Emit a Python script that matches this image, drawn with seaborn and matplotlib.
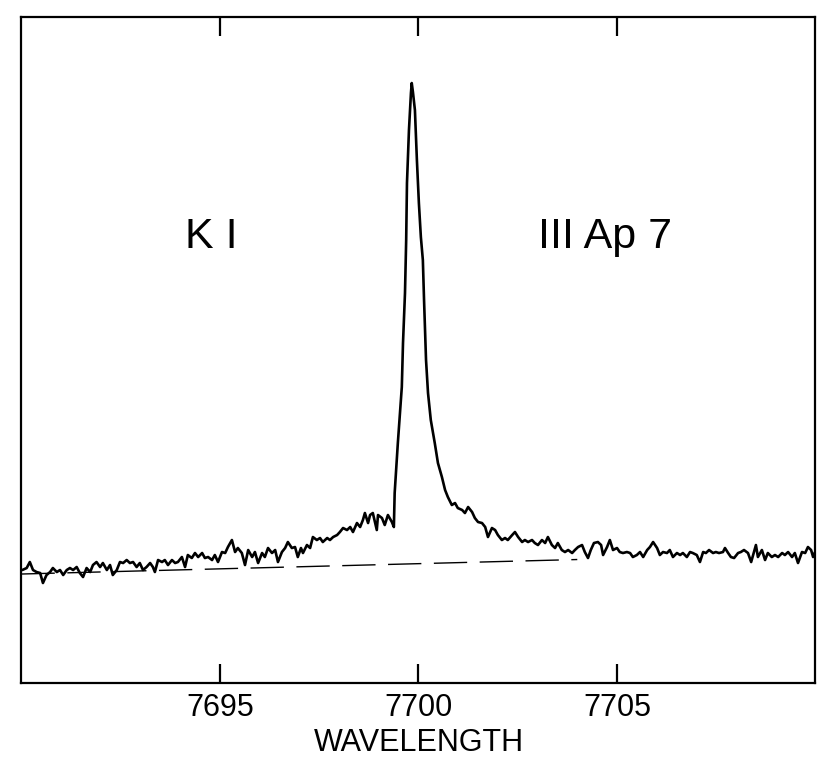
import numpy as np
import pandas as pd
import seaborn as sns
import matplotlib
matplotlib.use("Agg")
import matplotlib.pyplot as plt

# K I 7699 emission profile (relative flux, continuum ~ 1)
wavelength = [
    7690.02, 7690.13, 7690.21, 7690.29, 7690.38, 7690.47, 7690.54, 7690.63, 7690.72, 7690.79,
    7690.89, 7690.97, 7691.05, 7691.14, 7691.22, 7691.30, 7691.39, 7691.47, 7691.55, 7691.64,
    7691.73, 7691.80, 7691.89, 7691.98, 7692.05, 7692.15, 7692.23, 7692.30, 7692.40, 7692.48,
    7692.56, 7692.65, 7692.73, 7692.81, 7692.90, 7692.98, 7693.06, 7693.15, 7693.24, 7693.31,
    7693.36, 7693.44, 7693.54, 7693.61, 7693.69, 7693.79, 7693.87, 7693.94, 7694.04, 7694.12,
    7694.19, 7694.29, 7694.37, 7694.45, 7694.55, 7694.62, 7694.70, 7694.80, 7694.87, 7694.95,
    7695.05, 7695.13, 7695.20, 7695.30, 7695.38, 7695.45, 7695.55, 7695.63, 7695.71, 7695.81,
    7695.88, 7695.96, 7696.06, 7696.13, 7696.21, 7696.31, 7696.39, 7696.46, 7696.56, 7696.64,
    7696.71, 7696.81, 7696.89, 7696.96, 7697.04, 7697.09, 7697.19, 7697.27, 7697.34, 7697.44,
    7697.52, 7697.59, 7697.70, 7697.77, 7697.85, 7697.95, 7698.02, 7698.10, 7698.20, 7698.28,
    7698.35, 7698.45, 7698.53, 7698.60, 7698.65, 7698.73, 7698.78, 7698.85, 7698.95, 7698.98,
    7699.08, 7699.15, 7699.23, 7699.33, 7699.38,
    7699.40, 7699.48, 7699.58, 7699.61, 7699.66, 7699.69, 7699.71, 7699.76, 7699.81, 7699.83,
    7699.86, 7699.91, 7699.96, 7700.01, 7700.06, 7700.11, 7700.14, 7700.19, 7700.24, 7700.31,
    7700.41, 7700.49, 7700.59,
    7700.67, 7700.74, 7700.84, 7700.92, 7700.99, 7701.10, 7701.17, 7701.25, 7701.35, 7701.42,
    7701.50, 7701.60, 7701.68, 7701.75, 7701.85, 7701.93, 7702.00, 7702.10, 7702.18, 7702.25,
    7702.36, 7702.43, 7702.51, 7702.61, 7702.68, 7702.76, 7702.86, 7702.93, 7703.01, 7703.11,
    7703.19, 7703.26, 7703.36, 7703.44,
    7703.51, 7703.61, 7703.69, 7703.77, 7703.87, 7703.94, 7704.02, 7704.12, 7704.19, 7704.27,
    7704.34, 7704.42, 7704.52, 7704.60, 7704.65, 7704.75, 7704.82, 7704.90, 7705.00, 7705.07,
    7705.15, 7705.25, 7705.33, 7705.40, 7705.50, 7705.58, 7705.66, 7705.76, 7705.83, 7705.91,
    7706.01, 7706.08, 7706.16, 7706.26, 7706.33, 7706.41, 7706.51, 7706.59, 7706.66, 7706.76,
    7706.84, 7706.91, 7707.01, 7707.09, 7707.17, 7707.24, 7707.32, 7707.42, 7707.49, 7707.57,
    7707.67, 7707.72, 7707.80, 7707.87, 7707.95, 7708.05, 7708.12, 7708.20, 7708.30, 7708.38,
    7708.43, 7708.50, 7708.55, 7708.65, 7708.73, 7708.80, 7708.90, 7708.98, 7709.06, 7709.16,
    7709.23, 7709.31, 7709.41, 7709.48, 7709.56, 7709.66, 7709.74, 7709.81, 7709.89, 7709.94,
    7709.99,
]
flux = [
    1.000, 1.004, 1.016, 1.000, 0.996, 0.994, 0.974, 0.990, 0.996, 1.004,
    0.996, 1.000, 0.990, 1.000, 1.004, 1.000, 1.006, 0.994, 0.986, 1.004,
    0.996, 1.010, 1.016, 1.006, 1.014, 1.000, 1.010, 0.990, 1.000, 1.016,
    1.014, 1.020, 1.014, 1.016, 1.006, 1.014, 1.000, 1.006, 1.014, 1.006,
    0.996, 1.020, 1.016, 1.020, 1.010, 1.020, 1.014, 1.016, 1.026, 1.006,
    1.030, 1.024, 1.034, 1.026, 1.034, 1.024, 1.026, 1.020, 1.030, 1.016,
    1.036, 1.034, 1.046, 1.060, 1.036, 1.044, 1.034, 1.010, 1.040, 1.026,
    1.036, 1.014, 1.034, 1.026, 1.044, 1.034, 1.040, 1.016, 1.036, 1.044,
    1.056, 1.044, 1.046, 1.026, 1.044, 1.034, 1.050, 1.044, 1.066, 1.060,
    1.064, 1.056, 1.064, 1.060, 1.066, 1.070, 1.076, 1.084, 1.080, 1.086,
    1.076, 1.094, 1.086, 1.100, 1.114, 1.094, 1.110, 1.114, 1.080, 1.110,
    1.104, 1.090, 1.110, 1.096, 1.086,
    1.154, 1.254, 1.366, 1.454, 1.554, 1.660, 1.774, 1.880, 1.954, 1.974,
    1.956, 1.920, 1.820, 1.734, 1.666, 1.620, 1.540, 1.420, 1.354, 1.300,
    1.254, 1.214, 1.186,
    1.160, 1.146, 1.130, 1.134, 1.124, 1.120, 1.114, 1.126, 1.116, 1.104,
    1.096, 1.094, 1.086, 1.066, 1.084, 1.080, 1.070, 1.060, 1.064, 1.060,
    1.070, 1.076, 1.066, 1.056, 1.060, 1.056, 1.060, 1.054, 1.050, 1.060,
    1.054, 1.066, 1.050, 1.044,
    1.054, 1.040, 1.036, 1.040, 1.034, 1.040, 1.046, 1.050, 1.036, 1.024,
    1.040, 1.054, 1.056, 1.050, 1.030, 1.046, 1.060, 1.040, 1.044, 1.036,
    1.034, 1.036, 1.034, 1.026, 1.030, 1.036, 1.026, 1.040, 1.046, 1.056,
    1.044, 1.030, 1.036, 1.034, 1.040, 1.026, 1.034, 1.030, 1.034, 1.026,
    1.036, 1.034, 1.030, 1.016, 1.036, 1.034, 1.040, 1.034, 1.036, 1.034,
    1.036, 1.044, 1.034, 1.026, 1.024, 1.034, 1.036, 1.040, 1.034, 1.016,
    1.030, 1.050, 1.026, 1.040, 1.020, 1.034, 1.026, 1.030, 1.026, 1.034,
    1.030, 1.036, 1.026, 1.034, 1.014, 1.036, 1.034, 1.046, 1.040, 1.026,
    1.036,
]

# fitted continuum (dashed)
cont_wavelength = [7690.0, 7704.0]
cont_flux = [0.992, 1.021]

x_ticks = [7695, 7700, 7705]
x_limits = (7690, 7710)
y_limits = (0.774, 2.106)

FONT = ["Liberation Sans", "DejaVu Sans"]


def main():
    df = pd.DataFrame({"wavelength": wavelength, "flux": flux})
    cont = pd.DataFrame({"wavelength": cont_wavelength, "flux": cont_flux})

    sns.set_style("white")
    plt.rcParams["font.family"] = FONT
    plt.rcParams["text.color"] = "black"
    plt.rcParams["axes.labelcolor"] = "black"
    plt.rcParams["xtick.color"] = "black"
    plt.rcParams["axes.edgecolor"] = "black"

    fig = plt.figure(figsize=(8.30, 7.64), dpi=100)
    ax = fig.add_axes([0.0259, 0.1060, 0.9566, 0.8717])

    sns.lineplot(data=df, x="wavelength", y="flux", ax=ax, color="black",
                 linewidth=1.9, sort=False, estimator=None)
    sns.lineplot(data=cont, x="wavelength", y="flux", ax=ax, color="black",
                 linewidth=1.0, dashes=False, estimator=None)
    ax.lines[-1].set_dashes((24, 9))

    ax.set_xlim(*x_limits)
    ax.set_ylim(*y_limits)
    ax.set_xticks(x_ticks)
    ax.set_xticklabels([str(t) for t in x_ticks])
    ax.set_yticks([])
    ax.set_ylabel("")
    ax.tick_params(axis="x", direction="in", top=True, bottom=True,
                   length=14, width=1.6, labelsize=22, pad=7,
                   color="black", labelcolor="black")
    ax.set_xlabel("WAVELENGTH", fontsize=22, labelpad=3.5, color="black")

    for side in ax.spines.values():
        side.set_visible(True)
        side.set_color("black")
        side.set_linewidth(1.6)

    ax.text(0.2387, 0.6532, "K I", transform=ax.transAxes, fontsize=31,
            ha="center", va="baseline", color="black")
    ax.text(0.7349, 0.6532, "III Ap 7", transform=ax.transAxes, fontsize=31,
            ha="center", va="baseline", color="black")

    fig.savefig("out.png", dpi=100, facecolor="white")


if __name__ == "__main__":
    main()
